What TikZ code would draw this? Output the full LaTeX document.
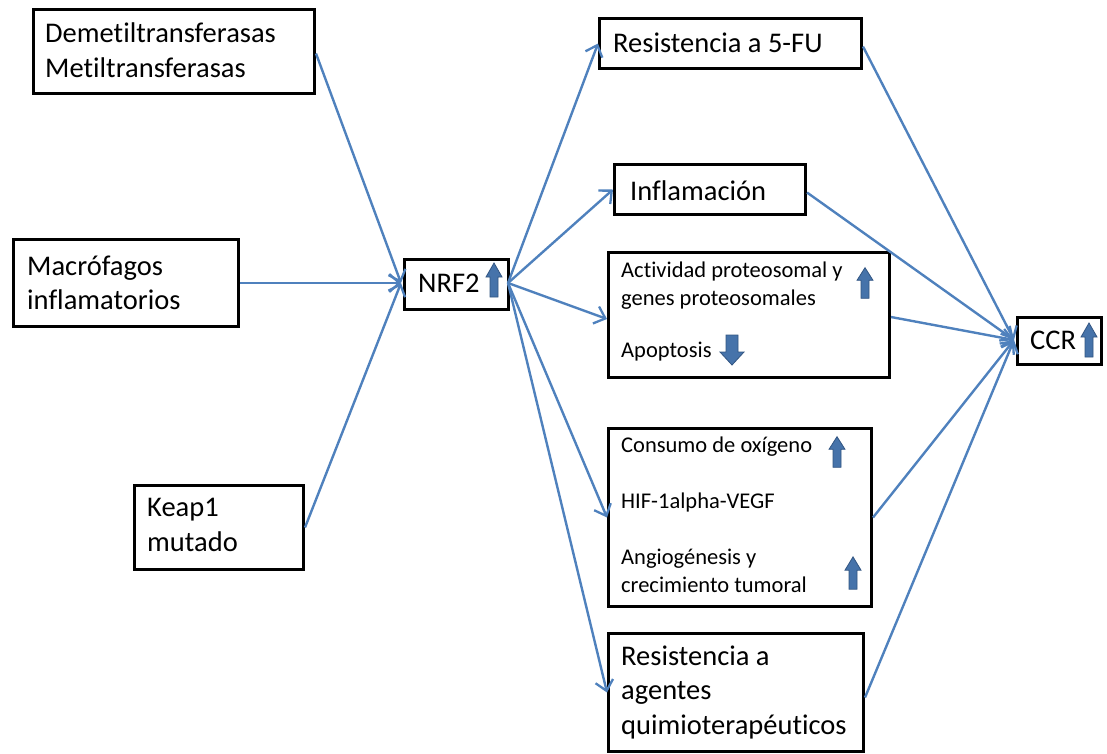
\documentclass[tikz,border=0pt]{standalone}
\usepackage{fontspec}
\setmainfont{Carlito}[Ligatures={NoCommon,NoContextual}, Contextuals=NoAlternate]
\usetikzlibrary{arrows.meta}
\definecolor{linkblue}{RGB}{79,129,189}
\definecolor{blockfill}{RGB}{70,115,170}
\definecolor{blockedge}{RGB}{50,85,130}
\tikzset{
  box/.style={draw=black, line width=3pt, fill=white, inner sep=0pt, anchor=north west},
  big/.style={inner sep=0pt, anchor=west, align=left, font=\fontsize{28.5}{34.5}\selectfont},
  small/.style={inner sep=0pt, anchor=west, align=left, font=\fontsize{22.5}{28}\selectfont},
  link/.style={draw=linkblue, line width=2.4pt, -{Straight Barb[length=10pt,width=18pt,line width=2.3pt]}},
  blockarrow/.style={fill=blockfill, draw=blockedge, line width=0.8pt},
  uparr/.pic={\filldraw[blockarrow] (-4,17) -- (-4,-3) -- (-8,-3) -- (0,-17) -- (8,-3) -- (4,-3) -- (4,17) -- cycle;},
  downarr/.pic={\filldraw[blockarrow] (-6,-15) -- (-6,2) -- (-12,2) -- (0,15) -- (12,2) -- (6,2) -- (6,-15) -- cycle;}
}
\begin{document}
\begin{tikzpicture}[x=1pt,y=-1pt]
\useasboundingbox (0,0) rectangle (1107,753);

% boxes
\node[box, minimum width=281, minimum height=84] (demet) at (32,8) {};
\node[box, minimum width=225, minimum height=87] (macro) at (12,238) {};
\node[box, minimum width=169, minimum height=84] (keap) at (133,484) {};
\node[box, minimum width=104, minimum height=50] (nrf) at (403,258) {};
\node[box, minimum width=262, minimum height=50] (fu) at (598,17) {};
\node[box, minimum width=191, minimum height=50] (infl) at (613,163) {};
\node[box, minimum width=281, minimum height=125] (prot) at (607,251) {};
\node[box, minimum width=263, minimum height=178] (oxi) at (607,427) {};
\node[box, minimum width=255, minimum height=118] (quimio) at (607,632) {};
\node[box, minimum width=84, minimum height=47] (ccr) at (1016,316) {};

% texts
\node[big] (tdemet) at (45,50) {Demetiltransferasas\\Metiltransferasas};
\node[big] (tmacro) at (27,283) {Macrófagos\\inflamatorios};
\node[big] (tkeap) at (147,525) {Keap1\\mutado};
\node[big] (tnrf) at (418,283) {NRF2};
\node[big] (tfu) at (613,43) {Resistencia a 5-FU};
\node[big] (tinfl) at (630,191) {Inflamación};
\node[small] (tprot) at (621,286) {Actividad proteosomal y\\genes proteosomales};
\node[small] (tapop) at (621,352) {Apoptosis};
\node[small] (toxi) at (621,447) {Consumo de oxígeno};
\node[small] (thif) at (621,502) {HIF-1alpha-VEGF};
\node[small] (tangio) at (621,571) {Angiogénesis y\\crecimiento tumoral};
\node[big] (tquimio) at (621,692) {Resistencia a\\agentes\\quimioterapéuticos};
\node[big] (tccr) at (1030,340) {CCR};

% up / down block arrows
\pic at (494,280) {uparr};
\pic at (1089,340) {uparr};
\pic[yscale=0.9] at (865,283) {uparr};
\pic[yscale=0.9] at (837,452) {uparr};
\pic[yscale=0.95] at (853,573) {uparr};
\pic at (732,350) {downarr};

% connectors into NRF2
\coordinate (nrfin) at (401,283);
\coordinate (nrfout) at (508,283);
\draw[link] ([yshift=-2]demet.east) -- (nrfin);
\draw[link] (macro.east) -- (nrfin);
\draw[link] (keap.east) -- (nrfin);

% connectors out of NRF2
\draw[link] (nrfout) -- (fu.west);
\draw[link] (nrfout) -- (infl.west);
\draw[link] (nrfout) -- ([yshift=-4]prot.west);
\draw[link] (nrfout) -- (oxi.west);
\draw[link] (nrfout) -- (quimio.west);

% connectors into CCR
\coordinate (ccrin) at (1014,340);
\draw[link] ([yshift=-3]fu.east) -- (ccrin);
\draw[link] ([yshift=-3]infl.east) -- (ccrin);
\draw[link] ([yshift=-2]prot.east) -- (ccrin);
\draw[link] (oxi.east) -- (ccrin);
\draw[link] ([yshift=-5]quimio.east) -- (ccrin);
\end{tikzpicture}
\end{document}
